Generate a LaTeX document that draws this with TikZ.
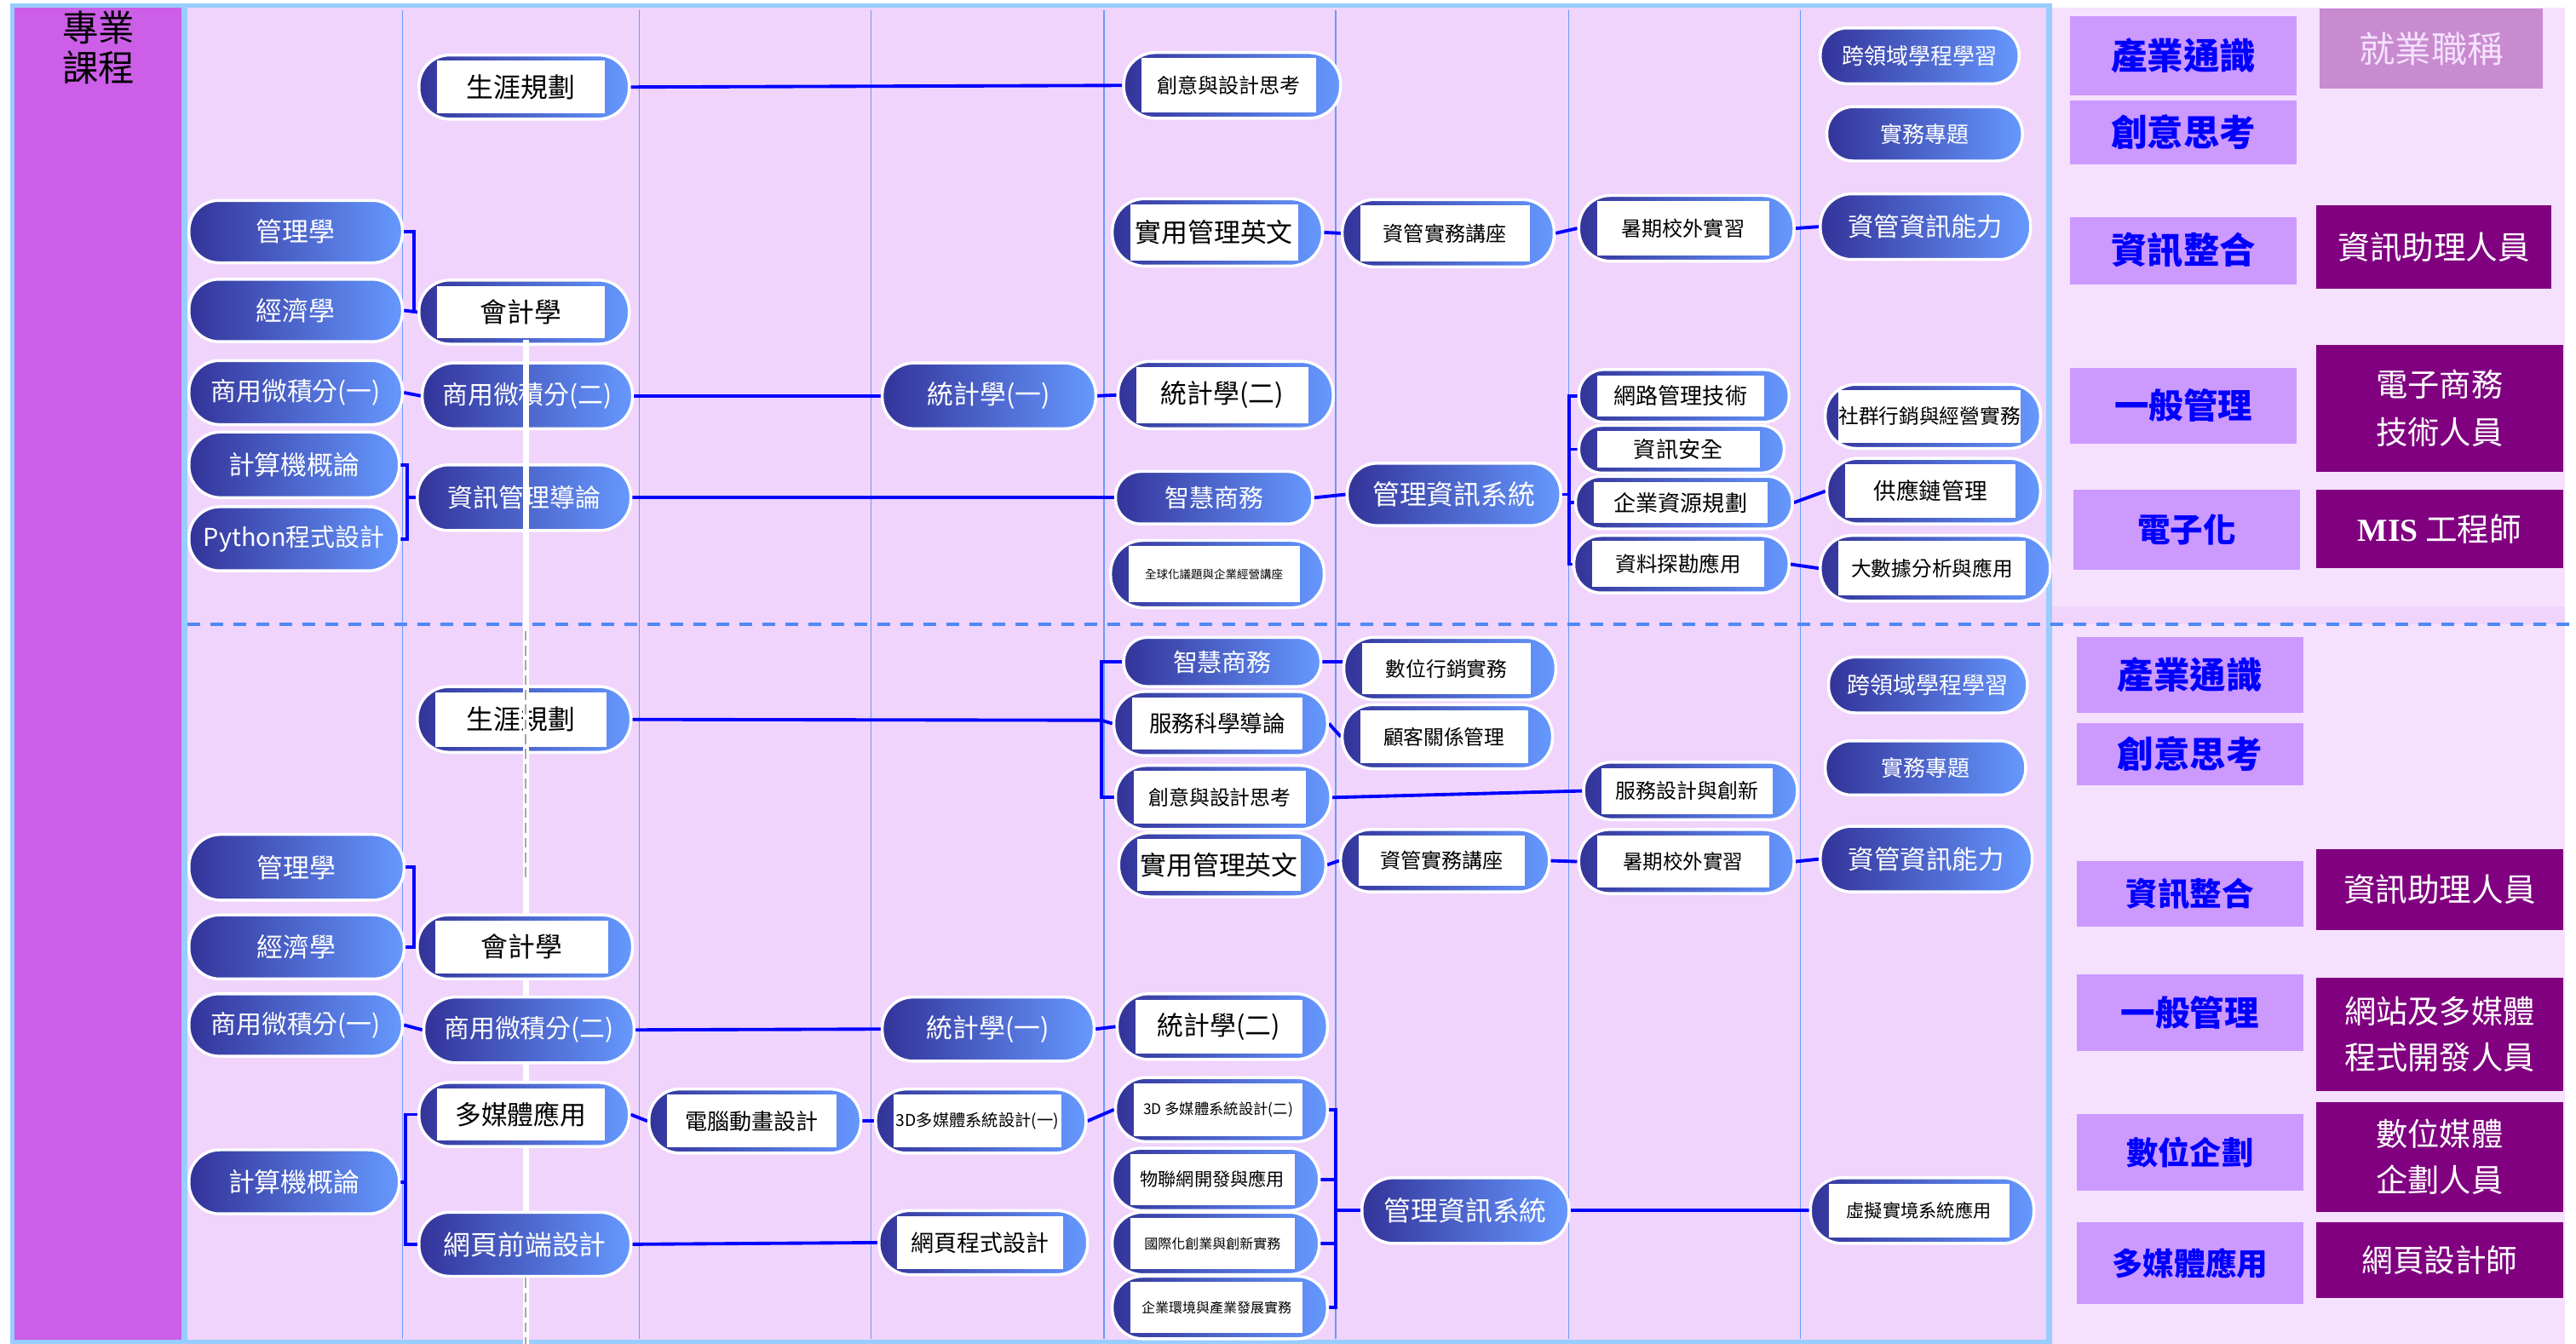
\documentclass[tikz,border=0pt]{standalone}
\usepackage{fontspec}
\setmainfont{Noto Sans CJK TC}
\newfontfamily\misfont{Liberation Serif}
\usetikzlibrary{calc}
\pgfdeclarelayer{bg}
\pgfdeclarelayer{cn}
\pgfdeclarelayer{top}
\pgfsetlayers{bg,cn,main,top}
\definecolor{bgmain}{HTML}{F0D4FC}
\definecolor{bgright}{HTML}{F5E1FD}
\definecolor{lpurple}{HTML}{CC5EE8}
\definecolor{frameblue}{HTML}{99CCFF}
\definecolor{colline}{HTML}{6699FF}
\definecolor{pdark}{HTML}{333399}
\definecolor{plight}{HTML}{6699FF}
\definecolor{dashblue}{HTML}{4F88F8}
\definecolor{lbox}{HTML}{CC99FF}
\definecolor{jbox}{HTML}{C88BD0}
\definecolor{jtext}{HTML}{F5E1FD}
\definecolor{dbox}{HTML}{800080}
\newcommand\fs[1]{\fontsize{#1}{#1}\selectfont}
\tikzset{
 conn/.style={draw=blue, line width=2pt},
 pill/.style={draw=white, line width=1.8pt, left color=pdark, right color=plight, inner sep=0pt,
   minimum height=#1, rounded corners=0.48*#1, text=white, align=center},
 inrect/.style={fill=white, text=black, inner sep=0pt, align=center},
 lb/.style={fill=lbox, text=blue, inner sep=0pt, align=center},
 db/.style={fill=dbox, text=white, inner sep=0pt, align=center},
 jb/.style={fill=jbox, text=jtext, inner sep=0pt, align=center},
}
% inset pill: name, x, y, width, height, font size, text
\newcommand\ins[7]{%
 \node[pill=#5, minimum width=#4] (#1) at (#2,#3) {};
 \node[inrect, minimum width=#4-26, minimum height=#5-7, font=\fs{#6}] (#1t) at ($(#1.center)+(-2,0)$) {#7};}
\begin{document}
\begin{tikzpicture}[x=1pt,y=-1pt]
\useasboundingbox (0,0) rectangle (1568,818);
\begin{pgfonlayer}{bg}
\fill[white] (0,0) rectangle (1568,818);
\fill[frameblue] (6,2) rectangle (1249,818);
\fill[lpurple] (9,4.5) rectangle (110.5,815.5);
\fill[bgmain] (114,4.5) rectangle (1245.5,815.5);
\fill[bgright] (1249,4.5) rectangle (1561,818);
\fill[bgmain] (1249,369) rectangle (1561,380);
\foreach \x in {245,389,530,672,813,955,1096} \draw[colline, line width=0.6pt] (\x,6) -- (\x,815);
\draw[dashblue, line width=2.2pt, dash pattern=on 8pt off 6pt] (114,380) -- (1568,380);
\end{pgfonlayer}

\node[font=\fontsize{22}{24}\selectfont, align=center, inner sep=0pt] (title) at (60,29) {專業\\課程};

% ---------- upper half ----------
\node[pill=38, minimum width=130, font=\fs{16}] (A1) at (180,141) {管理學};
\node[pill=38, minimum width=130, font=\fs{16}] (A2) at (180,189) {經濟學};
\node[pill=39, minimum width=130, font=\fs{15.5}] (A3) at (180,239) {商用微積分(一)};
\node[pill=40, minimum width=128, font=\fs{16}] (A4) at (179,283) {計算機概論};
\node[pill=39, minimum width=128, font=\fs{15}] (A5) at (179,328) {Python程式設計};
\ins{B1}{319}{53}{128}{39}{16.5}{生涯規劃}
\ins{B2}{319}{190}{128}{39}{16.5}{會計學}
\node[pill=40, minimum width=128, font=\fs{15.5}] (B3) at (321,241) {商用微積分(二)};
\node[pill=40, minimum width=130, font=\fs{15.5}] (B4) at (319,303) {資訊管理導論};
\node[pill=40, minimum width=130, font=\fs{16}] (D1) at (602,241) {統計學(一)};
\ins{E1}{750}{52}{132}{40}{12.5}{創意與設計思考}
\ins{E2}{741}{141.5}{128}{41}{16}{實用管理英文}
\ins{E3}{746}{240.5}{131}{41}{16}{統計學(二)}
\node[pill=32, minimum width=120, font=\fs{15}] (E4) at (739,303) {智慧商務};
\ins{E5}{741}{349.5}{130}{41}{7}{全球化議題與企業經營講座}
\ins{F1}{881.5}{142}{129}{41}{12.5}{資管實務講座}
\node[pill=38, minimum width=130, font=\fs{16.5}] (F2) at (885,301) {管理資訊系統};
\ins{G1}{1026.5}{139}{131}{40}{12.5}{暑期校外實習}
\ins{G2}{1025}{241}{128}{32}{13.5}{網路管理技術}
\ins{G3}{1023.5}{273.5}{125}{29}{13.5}{資訊安全}
\ins{G4}{1025}{306}{132}{32}{13.5}{企業資源規劃}
\ins{G5}{1023.5}{343.5}{131}{35}{12.7}{資料探勘應用}
\node[pill=34, minimum width=121, font=\fs{13.5}] (H1) at (1168.5,34) {跨領域學程學習};
\node[pill=33, minimum width=119, font=\fs{13.5}] (H2) at (1171.5,81.5) {實務專題};
\node[pill=40, minimum width=128, font=\fs{15.7}] (H3) at (1172,138) {資管資訊能力};
\ins{H4}{1176.5}{253.5}{131}{39}{12.3}{社群行銷與經營實務}
\ins{H5}{1177}{299}{130}{40}{13.8}{供應鏈管理}
\ins{H6}{1178}{346}{140}{40}{12.3}{大數據分析與應用}

% ---------- lower half ----------
\node[pill=40, minimum width=131, font=\fs{16}] (a1) at (180.5,528) {管理學};
\node[pill=39, minimum width=131, font=\fs{16}] (a2) at (180.5,576.5) {經濟學};
\node[pill=38, minimum width=130, font=\fs{15.5}] (a3) at (180,624) {商用微積分(一)};
\node[pill=39, minimum width=128, font=\fs{16}] (a4) at (179,719.5) {計算機概論};
\ins{b1}{319}{438}{130}{40}{16.5}{生涯規劃}
\ins{b2}{319.5}{576.5}{131}{39}{16.5}{會計學}
\node[pill=40, minimum width=128, font=\fs{15.5}] (b3) at (322,627) {商用微積分(二)};
\ins{b4}{319}{678.5}{128}{39}{16}{多媒體應用}
\node[pill=39, minimum width=129, font=\fs{16.5}] (b5) at (319.5,757.5) {網頁前端設計};
\ins{c1}{459.5}{682.5}{129}{39}{13.5}{電腦動畫設計}
\node[pill=39, minimum width=129, font=\fs{16}] (d1) at (601.5,626.5) {統計學(一)};
\ins{d2}{597}{682.5}{128}{39}{10}{3D多媒體系統設計(一)}
\ins{d3}{598.5}{756.5}{127}{39}{14}{網頁程式設計}
\node[pill=30, minimum width=120, font=\fs{15}] (e1) at (744,403) {智慧商務};
\ins{e2}{743}{440.5}{130}{39}{13.8}{服務科學導論}
\ins{e3}{744.5}{485.5}{131}{39}{12.4}{創意與設計思考}
\ins{e4}{744}{526.5}{126}{39}{16}{實用管理英文}
\ins{e5}{744}{625}{128}{40}{16}{統計學(二)}
\ins{e6}{743.5}{675.5}{129}{39}{9}{3D 多媒體系統設計(二)}
\ins{e7}{740}{718}{126}{38}{11}{物聯網開發與應用}
\ins{e8}{740}{757}{126}{38}{8.3}{國際化創業與創新實務}
\ins{e9}{742.5}{796}{131}{38}{8.3}{企業環境與產業發展實務}
\ins{f1}{882.5}{407}{129}{38}{12.3}{數位行銷實務}
\ins{f2}{881}{448.5}{128}{39}{12.3}{顧客關係管理}
\ins{f3}{879.5}{524}{127}{38}{12.5}{資管實務講座}
\node[pill=40, minimum width=126, font=\fs{16.5}] (f4) at (892,737) {管理資訊系統};
\ins{g1}{1029}{481.5}{130}{35}{12.4}{服務設計與創新}
\ins{g2}{1026.5}{524.5}{131}{39}{12.2}{暑期校外實習}
\node[pill=34, minimum width=121, font=\fs{14}] (h1) at (1173.5,417) {跨領域學程學習};
\node[pill=33, minimum width=122, font=\fs{13.5}] (h2) at (1172,467.5) {實務專題};
\node[pill=40, minimum width=129, font=\fs{15.8}] (h3) at (1172.5,523) {資管資訊能力};
\ins{h4}{1170}{737}{136}{40}{11}{虛擬實境系統應用}

% ---------- right panel ----------
\node[lb, minimum width=138, minimum height=48, font=\fs{22}\bfseries] (R1) at (1329,34) {產業通識};
\node[jb, minimum width=136, minimum height=49, font=\fs{22}] (R2) at (1480,29.5) {就業職稱};
\node[lb, minimum width=138, minimum height=39, font=\fs{22}\bfseries] (R3) at (1329,80.5) {創意思考};
\node[lb, minimum width=138, minimum height=41, font=\fs{22}\bfseries] (R4) at (1329,152.5) {資訊整合};
\node[db, minimum width=143, minimum height=51, font=\fs{19.5}] (R5) at (1481.5,150.5) {資訊助理人員};
\node[lb, minimum width=138, minimum height=46, font=\fs{21}\bfseries] (R6) at (1329,247) {一般管理};
\node[db, minimum width=150, minimum height=77, font=\fontsize{19.3}{29}\selectfont] (R7) at (1485,248.5) {電子商務\\技術人員};
\node[lb, minimum width=138, minimum height=49, font=\fs{20}\bfseries] (R8) at (1331,322.5) {電子化};
\node[db, minimum width=150, minimum height=48, font=\fs{19.5}] (R9) at (1485,322) {{\misfont\bfseries MIS} 工程師};

\node[lb, minimum width=138, minimum height=46, font=\fs{22}\bfseries] (r1) at (1333,411) {產業通識};
\node[lb, minimum width=138, minimum height=38, font=\fs{22}\bfseries] (r2) at (1333,459) {創意思考};
\node[lb, minimum width=138, minimum height=40, font=\fs{19.5}\bfseries] (r3) at (1333,544) {資訊整合};
\node[db, minimum width=150, minimum height=49, font=\fs{19.5}] (r4) at (1485,541.5) {資訊助理人員};
\node[lb, minimum width=138, minimum height=47, font=\fs{21}\bfseries] (r5) at (1333,616.5) {一般管理};
\node[db, minimum width=150, minimum height=69, font=\fontsize{19.3}{28}\selectfont] (r6) at (1485,629.5) {網站及多媒體\\程式開發人員};
\node[lb, minimum width=138, minimum height=47, font=\fs{19.3}\bfseries] (r7) at (1333,701.5) {數位企劃};
\node[db, minimum width=150, minimum height=67, font=\fontsize{19.3}{28}\selectfont] (r8) at (1485,704.5) {數位媒體\\企劃人員};
\node[lb, minimum width=138, minimum height=50, font=\fs{19}\bfseries] (r9) at (1333,769) {多媒體應用};
\node[db, minimum width=150, minimum height=46, font=\fs{19}] (r10) at (1485,767) {網頁設計師};

% ---------- connectors ----------
\begin{pgfonlayer}{cn}
\draw[white, line width=3.5pt] (320,207) -- (320,818);
\coordinate (k1) at (252,190);
\draw[conn] (A1.east) -| (k1);
\draw[conn] (A2.east) -- (B2.west);
\draw[conn] (A3.east) -- (B3.west);
\coordinate (k2) at (248,303);
\draw[conn] (A4.east) -| (k2) |- (A5.east);
\draw[conn] (k2) -- (B4.west);
\draw[conn] (B1.east) -- (E1.west);
\draw[conn] (B3.east) -- (D1.west);
\draw[conn] (B4.east) -- (E4.west);
\draw[conn] (D1.east) -- (E3.west);
\draw[conn] (E2.east) -- (F1.west);
\draw[conn] (E4.east) -- (F2.west);
\draw[conn] (F1.east) -- (G1.west);
\draw[conn] (G1.east) -- (H3.west);
\coordinate (k3) at (955,301);
\draw[conn] (F2.east) -- (k3);
\draw[conn] (G2.west) -| (k3) |- (G5.west);
\draw[conn] (k3 |- G3.west) -- (G3.west);
\draw[conn] (k3 |- G4.west) -- (G4.west);
\draw[conn] (G4.east) -- (H5.west);
\draw[conn] (G5.east) -- (H6.west);
% lower
\coordinate (k4) at (252,576.5);
\draw[conn] (a1.east) -| (k4);
\draw[conn] (a2.east) -- (b2.west);
\draw[conn] (a3.east) -- (b3.west);
\coordinate (k5) at (247,719.5);
\draw[conn] (b4.west) -| (k5) |- (b5.west);
\draw[conn] (a4.east) -- (k5);
\coordinate (k6) at (670.5,438.5);
\draw[conn] (b1.east) -- (k6);
\draw[conn] (e1.west) -| (k6) |- (e3.west);
\draw[conn] (k6) -- (e2.west);
\draw[conn] (b3.east) -- (d1.west);
\draw[conn] (d1.east) -- (e5.west);
\draw[conn] (b4.east) -- (c1.west);
\draw[conn] (c1.east) -- (d2.west);
\draw[conn] (d2.east) -- (e6.west);
\draw[conn] (b5.east) -- (d3.west);
\draw[conn] (e1.east) -- (e1.east -| f1.west);
\draw[conn] (e2.east) -- (f2.west);
\draw[conn] (e3.east) -- (g1.west);
\draw[conn] (e4.east) -- (f3.west);
\draw[conn] (f3.east) -- (g2.west);
\draw[conn] (g2.east) -- (h3.west);
\coordinate (k7) at (813,737);
\draw[conn] (e6.east) -| (k7) |- (e9.east);
\draw[conn] (e7.east) -- (e7.east -| k7);
\draw[conn] (e8.east) -- (e8.east -| k7);
\draw[conn] (k7) -- (f4.west);
\draw[conn] (f4.east) -- (h4.west);
\end{pgfonlayer}

\begin{pgfonlayer}{top}
\draw[white, line width=3.5pt] (320,207) -- (320,330);
\draw[white, line width=3.5pt] (320,415) -- (320,470);
\draw[black!35, line width=0.8pt, dash pattern=on 6pt off 3pt] (320,384) -- (320,534);
\draw[black!35, line width=0.8pt, dash pattern=on 6pt off 3pt] (320,778) -- (320,818);
\end{pgfonlayer}
\end{tikzpicture}
\end{document}
